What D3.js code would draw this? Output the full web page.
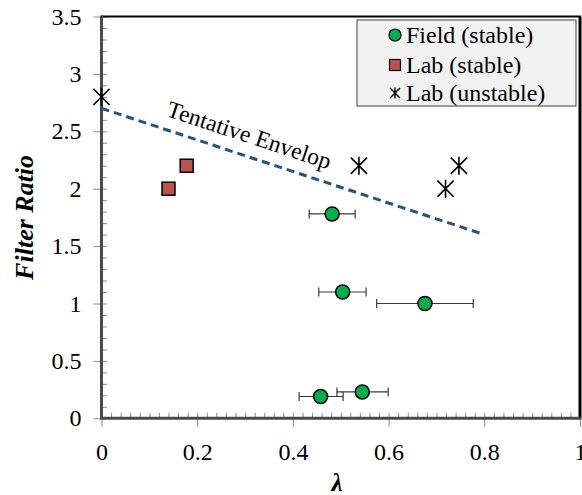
<!DOCTYPE html>
<html lang="en">
<head>
    <meta charset="UTF-8">
    <title>Filter Ratio vs lambda</title>
    <style>
        body {
            margin: 0;
            background-color: white;
        }
        svg {
            display: block;
        }
        svg text {
            font-family: "Liberation Serif", "Times New Roman", Times, serif !important;
        }
    </style>
</head>
<body>
    <svg width="582" height="495"></svg>
    <script src="https://d3js.org/d3.v7.min.js"></script>
    <script>
        // data
        const fieldX = [0.482, 0.504, 0.676, 0.458, 0.545];
        const fieldY = [1.78, 1.10, 1.00, 0.19, 0.23];
        const fieldLo = [0.434, 0.454, 0.575, 0.413, 0.492];
        const fieldHi = [0.530, 0.553, 0.777, 0.505, 0.599];

        const labStableX = [0.14, 0.178];
        const labStableY = [2.0, 2.2];

        const labUnstableX = [0, 0.538, 0.747, 0.719];
        const labUnstableY = [2.8, 2.2, 2.2, 2.0];

        const envelopeX = [0, 0.8];
        const envelopeY = [2.7, 1.6];

        const xTicks = [0, 0.2, 0.4, 0.6, 0.8, 1];
        const yTicks = [0, 0.5, 1, 1.5, 2, 2.5, 3, 3.5];

        const legendLabels = ["Field (stable)", "Lab (stable)", "Lab (unstable)"];

        const svg = d3.select("svg");
        const pL = 101.5, pR = 580, pT = 16.5, pB = 418.3;

        const x = d3.scaleLinear().domain([0, 1]).range([pL, pR]);
        const y = d3.scaleLinear().domain([0, 3.5]).range([pB, pT]);

        const tickColor = "#8c8c8c";

        // minor ticks (inside)
        svg.append("g")
            .attr("transform", `translate(0,${pB})`)
            .call(d3.axisBottom(x).tickValues(d3.range(0, 1.001, 0.02)).tickSize(-5.5).tickFormat(""))
            .call(g => g.select(".domain").remove())
            .call(g => g.selectAll("line").attr("stroke", tickColor));
        svg.append("g")
            .attr("transform", `translate(${pL},0)`)
            .call(d3.axisLeft(y).tickValues(d3.range(0, 3.501, 0.1)).tickSize(-5.5).tickFormat(""))
            .call(g => g.select(".domain").remove())
            .call(g => g.selectAll("line").attr("stroke", tickColor));

        // major ticks (outside) and labels
        const xAxis = svg.append("g")
            .attr("transform", `translate(0,${pB})`)
            .call(d3.axisBottom(x).tickValues(xTicks).tickSize(8.5).tickPadding(16.5)
                .tickFormat(d => d3.format("")(d)))
            .call(g => g.select(".domain").remove());
        const yAxis = svg.append("g")
            .attr("transform", `translate(${pL},0)`)
            .call(d3.axisLeft(y).tickValues(yTicks).tickSize(8).tickPadding(12)
                .tickFormat(d => d3.format("")(d)))
            .call(g => g.select(".domain").remove());
        [xAxis, yAxis].forEach(g => {
            g.attr("font-family", null).attr("font-size", null);
            g.selectAll("line").attr("stroke", tickColor);
            g.selectAll("text")
                .attr("fill", "black")
                .style("font-size", "24px");
        });

        // frame
        svg.append("line")
            .attr("x1", pL).attr("x2", pR + 1).attr("y1", pT).attr("y2", pT)
            .attr("stroke", "black").attr("stroke-width", 2);
        svg.append("line")
            .attr("x1", pR).attr("x2", pR).attr("y1", pT).attr("y2", pB)
            .attr("stroke", "black").attr("stroke-width", 3);
        svg.append("line")
            .attr("x1", pL).attr("x2", pR + 1.5).attr("y1", pB).attr("y2", pB)
            .attr("stroke", "#4a4a4a").attr("stroke-width", 3);
        svg.append("line")
            .attr("x1", pL).attr("x2", pL).attr("y1", pT - 1).attr("y2", pB + 1.5)
            .attr("stroke", "#4a4a4a").attr("stroke-width", 3);

        // axis titles
        svg.append("text")
            .attr("transform", `translate(33,${(pT + pB) / 2}) rotate(-90)`)
            .attr("text-anchor", "middle")
            .style("font-size", "26px")
            .style("font-weight", "bold")
            .style("font-style", "italic")
            .text("Filter Ratio");
        svg.append("text")
            .attr("x", 337).attr("y", 491)
            .attr("text-anchor", "middle")
            .style("font-size", "25px")
            .style("font-weight", "bold")
            .style("font-style", "italic")
            .text("λ");

        // tentative envelope
        const envelope = envelopeX.map((d, i) => [d, envelopeY[i]]);
        svg.append("path")
            .attr("d", d3.line().x(d => x(d[0])).y(d => y(d[1]))(envelope))
            .attr("fill", "none")
            .attr("stroke", "#24528a")
            .attr("stroke-width", 3)
            .attr("stroke-dasharray", "8,5");

        const ang = Math.atan2(y(envelopeY[1]) - y(envelopeY[0]), x(envelopeX[1]) - x(envelopeX[0]));
        const t0 = 0.125;
        const lx = x(t0);
        const ly = y(envelopeY[0] + (envelopeY[1] - envelopeY[0]) * t0 / envelopeX[1]);
        const off = 13;
        svg.append("text")
            .attr("transform", `translate(${lx + off * Math.sin(ang)},${ly - off * Math.cos(ang)}) rotate(${ang * 180 / Math.PI})`)
            .style("font-size", "23.5px")
            .text("Tentative Envelop");

        // asterisk marker path
        function star(cx, cy, s) {
            const d = s * 0.9;
            return `M${cx},${cy - s}L${cx},${cy + s}M${cx - d},${cy - d}L${cx + d},${cy + d}M${cx - d},${cy + d}L${cx + d},${cy - d}`;
        }

        // field error bars
        const field = fieldX.map((d, i) => ({ x: d, y: fieldY[i], lo: fieldLo[i], hi: fieldHi[i] }));
        const eb = svg.append("g").attr("stroke", "#3a3a3a").attr("stroke-width", 1.2);
        field.forEach(d => {
            eb.append("line").attr("x1", x(d.lo)).attr("x2", x(d.hi)).attr("y1", y(d.y)).attr("y2", y(d.y));
            eb.append("line").attr("x1", x(d.lo)).attr("x2", x(d.lo)).attr("y1", y(d.y) - 4.5).attr("y2", y(d.y) + 4.5);
            eb.append("line").attr("x1", x(d.hi)).attr("x2", x(d.hi)).attr("y1", y(d.y) - 4.5).attr("y2", y(d.y) + 4.5);
        });

        svg.append("g").selectAll("circle")
            .data(field)
            .join("circle")
            .attr("cx", d => x(d.x))
            .attr("cy", d => y(d.y))
            .attr("r", 7)
            .attr("fill", "#00b050")
            .attr("stroke", "black")
            .attr("stroke-width", 1.5);

        svg.append("g").selectAll("rect")
            .data(labStableX.map((d, i) => [d, labStableY[i]]))
            .join("rect")
            .attr("x", d => x(d[0]) - 6.5)
            .attr("y", d => y(d[1]) - 6.5)
            .attr("width", 13)
            .attr("height", 13)
            .attr("fill", "#c0504d")
            .attr("stroke", "black")
            .attr("stroke-width", 1.5);

        svg.append("g").selectAll("path")
            .data(labUnstableX.map((d, i) => [d, labUnstableY[i]]))
            .join("path")
            .attr("d", d => star(x(d[0]), y(d[1]), 9))
            .attr("fill", "none")
            .attr("stroke", "black")
            .attr("stroke-width", 1.6);

        // legend
        const lg = svg.append("g");
        lg.append("rect")
            .attr("x", 357).attr("y", 20)
            .attr("width", 219).attr("height", 86)
            .attr("fill", "#f2f2f2")
            .attr("stroke", "#404040")
            .attr("stroke-width", 1);
        const rowY = [35, 65, 93];
        lg.append("circle").attr("cx", 395).attr("cy", rowY[0]).attr("r", 6)
            .attr("fill", "#00b050").attr("stroke", "black").attr("stroke-width", 1.2);
        lg.append("rect").attr("x", 389.5).attr("y", rowY[1] - 5.5).attr("width", 11).attr("height", 11)
            .attr("fill", "#c0504d").attr("stroke", "black").attr("stroke-width", 1.2);
        lg.append("path").attr("d", star(395, rowY[2], 5.5))
            .attr("fill", "none").attr("stroke", "black").attr("stroke-width", 1.4);
        lg.selectAll("text.lab")
            .data(legendLabels)
            .join("text")
            .attr("class", "lab")
            .attr("x", 406)
            .attr("y", (d, i) => rowY[i] + 7.5)
            .style("font-size", "24px")
            .text(d => d);
    </script>
</body>
</html>
